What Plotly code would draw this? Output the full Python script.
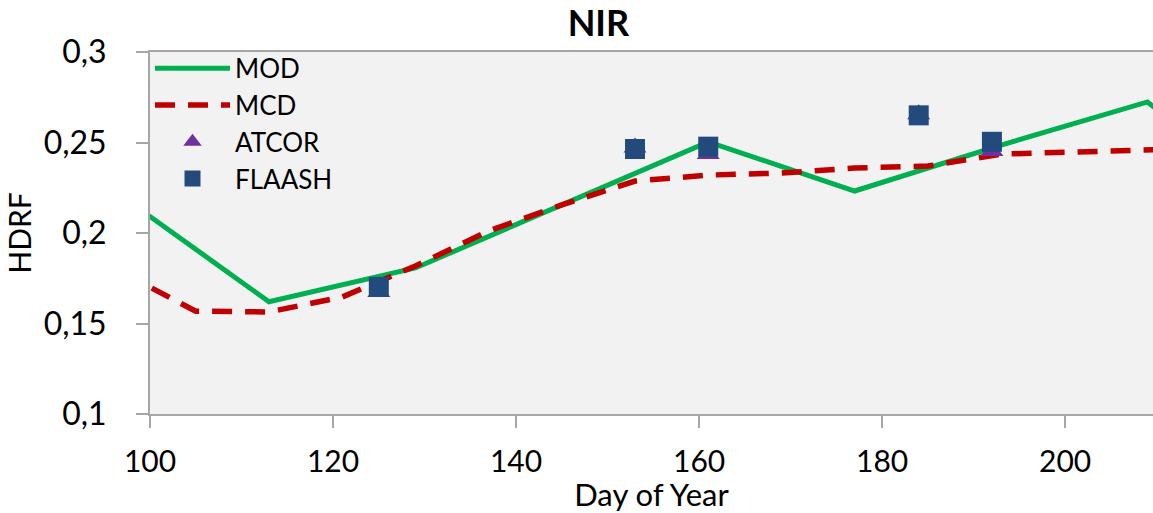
import plotly.graph_objects as go

# ---- data ----
mod_day = [97, 113, 129, 145, 161, 177, 193, 209, 225]
mod_hdrf = [0.220, 0.162, 0.1807, 0.2155, 0.2503, 0.2232, 0.2486, 0.2724, 0.207]

mcd_day = [97, 105, 113, 121, 129, 137, 145, 153, 161, 169, 177, 185, 193, 201, 209, 217]
mcd_hdrf = [0.178, 0.1568, 0.1564, 0.1646, 0.1818, 0.2011, 0.2155, 0.2287, 0.2320,
            0.2331, 0.2359, 0.2370, 0.2436, 0.2448, 0.2464, 0.2470]

atcor_day = [125, 153, 161, 184, 192]
atcor_hdrf = [0.1674, 0.2472, 0.2436, 0.2656, 0.2453]

flaash_day = [125, 153, 161, 184, 192]
flaash_hdrf = [0.1702, 0.2464, 0.2477, 0.2650, 0.2504]

x_ticks = [100, 120, 140, 160, 180, 200]
y_ticks = [0.1, 0.15, 0.2, 0.25, 0.3]
y_tick_labels = ["0,1", "0,15", "0,2", "0,25", "0,3"]

FONT = "Lato"

fig = go.Figure()
fig.add_trace(go.Scatter(x=mod_day, y=mod_hdrf, mode="lines", name="MOD",
                         line=dict(color="#00b050", width=5)))
fig.add_trace(go.Scatter(x=mcd_day, y=mcd_hdrf, mode="lines", name="MCD",
                         line=dict(color="#c00000", width=5.5, dash="20px,13px")))
fig.add_trace(go.Scatter(x=atcor_day, y=atcor_hdrf, mode="markers", name="ATCOR",
                         marker=dict(symbol="triangle-up", size=20, color="#7030a0",
                                     line=dict(width=0))))
fig.add_trace(go.Scatter(x=flaash_day, y=flaash_hdrf, mode="markers", name="FLAASH",
                         marker=dict(symbol="square", size=20, color="#234a7c",
                                     line=dict(width=0))))

fig.update_layout(
    width=1153, height=513,
    margin=dict(l=150, r=0, t=52, b=99),
    paper_bgcolor="white",
    plot_bgcolor="#f2f2f2",
    font=dict(family=FONT, color="black"),
    title=dict(text="<b>NIR</b>", x=0.519, xanchor="center", y=0.955, yanchor="middle",
               font=dict(family=FONT, size=36, color="black")),
    showlegend=True,
    legend=dict(x=0.0, y=1.02, xanchor="left", yanchor="top",
                bgcolor="rgba(0,0,0,0)", font=dict(family=FONT, size=26, color="black"),
                itemwidth=75, tracegroupgap=0),
    xaxis=dict(range=[100, 209.6], tickmode="array", tickvals=x_ticks,
               showgrid=False, zeroline=False,
               showline=True, linecolor="#a6a6a6", linewidth=2, mirror=True,
               ticks="outside", ticklen=12, tickwidth=2, tickcolor="#a6a6a6",
               tickfont=dict(family=FONT, size=30, color="black"),
               ticklabelstandoff=8,
               title=dict(text="Day of Year", standoff=2,
                          font=dict(family=FONT, size=31, color="black"))),
    yaxis=dict(range=[0.1, 0.3], tickmode="array", tickvals=y_ticks, ticktext=y_tick_labels,
               showgrid=False, zeroline=False,
               showline=True, linecolor="#a6a6a6", linewidth=2,
               ticks="outside", ticklen=12, tickwidth=2, tickcolor="#a6a6a6",
               tickfont=dict(family=FONT, size=32, color="black"),
               ticklabelstandoff=23,
               title=dict(text="HDRF", standoff=3,
                          font=dict(family=FONT, size=30, color="black"))),
)

fig.write_html("out.html")
